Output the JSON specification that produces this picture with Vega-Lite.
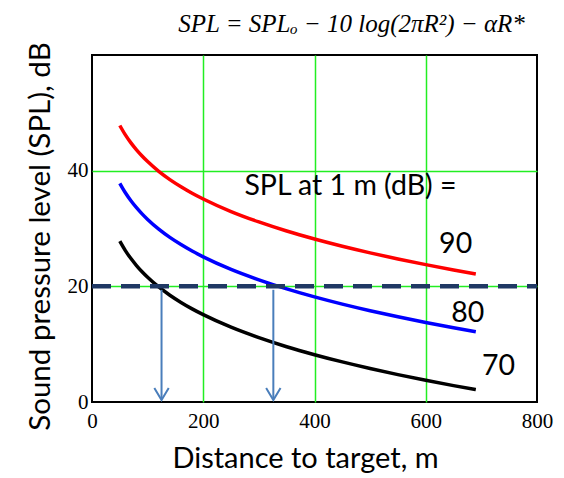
{
  "$schema": "https://vega.github.io/schema/vega-lite/v6.json",
  "width": 445,
  "height": 347,
  "autosize": "none",
  "padding": {"left": 92, "top": 55, "right": 27, "bottom": 76},
  "background": "white",
  "config": {
    "view": {"stroke": "black", "strokeWidth": 2},
    "title": {"font": "Liberation Serif", "fontSize": 25, "fontStyle": "italic", "fontWeight": "normal", "color": "black"}
  },
  "title": {"text": "SPL = SPLₒ − 10 log(2πR²) − αR*", "anchor": "middle", "dx": 37, "dy": 15, "offset": 20},
  "datasets": {
    "curves": [
      {"R": 50, "SPL": 27.81, "series": "70"}, {"R": 60, "SPL": 26.18, "series": "70"}, {"R": 70, "SPL": 24.8, "series": "70"}, {"R": 80, "SPL": 23.6, "series": "70"}, {"R": 90, "SPL": 22.53, "series": "70"}, {"R": 100, "SPL": 21.57, "series": "70"}, {"R": 120, "SPL": 19.89, "series": "70"}, {"R": 140, "SPL": 18.46, "series": "70"}, {"R": 160, "SPL": 17.22, "series": "70"}, {"R": 180, "SPL": 16.1, "series": "70"}, {"R": 200, "SPL": 15.1, "series": "70"}, {"R": 250, "SPL": 12.93, "series": "70"}, {"R": 300, "SPL": 11.13, "series": "70"}, {"R": 350, "SPL": 9.56, "series": "70"}, {"R": 400, "SPL": 8.18, "series": "70"}, {"R": 450, "SPL": 6.93, "series": "70"}, {"R": 500, "SPL": 5.79, "series": "70"}, {"R": 550, "SPL": 4.74, "series": "70"}, {"R": 600, "SPL": 3.75, "series": "70"}, {"R": 650, "SPL": 2.83, "series": "70"}, {"R": 690, "SPL": 2.14, "series": "70"},
      {"R": 50, "SPL": 37.81, "series": "80"}, {"R": 60, "SPL": 36.18, "series": "80"}, {"R": 70, "SPL": 34.8, "series": "80"}, {"R": 80, "SPL": 33.6, "series": "80"}, {"R": 90, "SPL": 32.53, "series": "80"}, {"R": 100, "SPL": 31.57, "series": "80"}, {"R": 120, "SPL": 29.89, "series": "80"}, {"R": 140, "SPL": 28.46, "series": "80"}, {"R": 160, "SPL": 27.22, "series": "80"}, {"R": 180, "SPL": 26.1, "series": "80"}, {"R": 200, "SPL": 25.1, "series": "80"}, {"R": 250, "SPL": 22.93, "series": "80"}, {"R": 300, "SPL": 21.13, "series": "80"}, {"R": 350, "SPL": 19.56, "series": "80"}, {"R": 400, "SPL": 18.18, "series": "80"}, {"R": 450, "SPL": 16.93, "series": "80"}, {"R": 500, "SPL": 15.79, "series": "80"}, {"R": 550, "SPL": 14.74, "series": "80"}, {"R": 600, "SPL": 13.75, "series": "80"}, {"R": 650, "SPL": 12.83, "series": "80"}, {"R": 690, "SPL": 12.14, "series": "80"},
      {"R": 50, "SPL": 47.81, "series": "90"}, {"R": 60, "SPL": 46.18, "series": "90"}, {"R": 70, "SPL": 44.8, "series": "90"}, {"R": 80, "SPL": 43.6, "series": "90"}, {"R": 90, "SPL": 42.53, "series": "90"}, {"R": 100, "SPL": 41.57, "series": "90"}, {"R": 120, "SPL": 39.89, "series": "90"}, {"R": 140, "SPL": 38.46, "series": "90"}, {"R": 160, "SPL": 37.22, "series": "90"}, {"R": 180, "SPL": 36.1, "series": "90"}, {"R": 200, "SPL": 35.1, "series": "90"}, {"R": 250, "SPL": 32.93, "series": "90"}, {"R": 300, "SPL": 31.13, "series": "90"}, {"R": 350, "SPL": 29.56, "series": "90"}, {"R": 400, "SPL": 28.18, "series": "90"}, {"R": 450, "SPL": 26.93, "series": "90"}, {"R": 500, "SPL": 25.79, "series": "90"}, {"R": 550, "SPL": 24.74, "series": "90"}, {"R": 600, "SPL": 23.75, "series": "90"}, {"R": 650, "SPL": 22.83, "series": "90"}, {"R": 690, "SPL": 22.14, "series": "90"}
    ],
    "threshold": [{"R": 0, "SPL": 20}, {"R": 800, "SPL": 20}],
    "arrows": [{"R": 125, "SPL": 19.4, "SPL2": 0.5}, {"R": 326, "SPL": 19.4, "SPL2": 0.5}],
    "heads": [{"R": 125, "SPL": 0.35}, {"R": 326, "SPL": 0.35}],
    "labels": [
      {"R": 274, "SPL": 35.8, "label": "SPL at 1 m (dB) ="},
      {"R": 624, "SPL": 25.8, "label": "90"},
      {"R": 646, "SPL": 13.8, "label": "80"},
      {"R": 701, "SPL": 4.7, "label": "70"}
    ]
  },
  "encoding": {
    "x": {
      "field": "R", "type": "quantitative",
      "scale": {"domain": [0, 800], "nice": false, "zero": false},
      "axis": {
        "values": [0, 200, 400, 600, 800], "title": "Distance to target, m",
        "grid": true, "gridColor": {"condition": {"test": "datum.value == 0 || datum.value == 800", "value": "transparent"}, "value": "#22ee22"}, "gridWidth": 1.5,
        "domain": false, "ticks": false, "labelPadding": 8, "labelFlush": false,
        "labelFont": "Liberation Serif", "labelFontSize": 21, "labelColor": "black",
        "titleFont": "Lato", "titleFontSize": 29, "titleFontWeight": "normal", "titleColor": "black", "titlePadding": 13, "titleX": 213
      }
    },
    "y": {
      "field": "SPL", "type": "quantitative",
      "scale": {"domain": [0, 60], "nice": false},
      "axis": {
        "values": [0, 20, 40], "title": "Sound pressure level (SPL), dB",
        "grid": true, "gridColor": {"condition": {"test": "datum.value == 0", "value": "transparent"}, "value": "#22ee22"}, "gridWidth": 1.5,
        "domain": false, "ticks": false, "labelPadding": 4,
        "labelFont": "Liberation Serif", "labelFontSize": 21, "labelColor": "black",
        "titleFont": "Lato", "titleFontSize": 29.5, "titleFontWeight": "normal", "titleColor": "black", "titlePadding": 12, "titleY": 181
      }
    }
  },
  "layer": [
    {
      "data": {"name": "curves"},
      "mark": {"type": "line", "strokeWidth": 3.5, "interpolate": "monotone"},
      "encoding": {
        "color": {"field": "series", "type": "nominal", "scale": {"domain": ["90", "80", "70"], "range": ["#ff0000", "#0000ff", "#000000"]}, "legend": null}
      }
    },
    {
      "data": {"name": "threshold"},
      "mark": {"type": "line", "color": "#1f3864", "strokeWidth": 4.5, "strokeDash": [19, 10]},
      "encoding": {}
    },
    {
      "data": {"name": "arrows"},
      "mark": {"type": "rule", "color": "#4a7ebb", "strokeWidth": 2},
      "encoding": {"y2": {"field": "SPL2"}}
    },
    {
      "data": {"name": "heads"},
      "mark": {"type": "point", "shape": "M-0.9,-1.5L0,0L0.9,-1.5", "filled": false, "color": "#4a7ebb", "strokeWidth": 2, "size": 256, "opacity": 1},
      "encoding": {}
    },
    {
      "data": {"name": "labels"},
      "mark": {"type": "text", "align": "left", "baseline": "alphabetic", "font": "Lato", "fontSize": 28.5, "color": "black"},
      "encoding": {"text": {"field": "label"}}
    }
  ]
}
